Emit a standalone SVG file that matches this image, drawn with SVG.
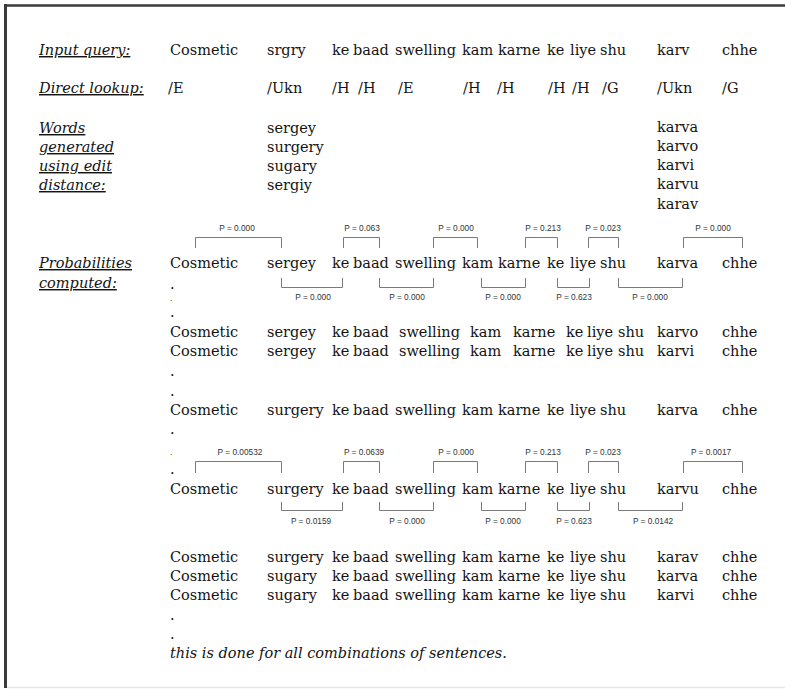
<svg xmlns="http://www.w3.org/2000/svg" width="785" height="689" viewBox="0 0 785 689">
<style>
.w{font-family:"DejaVu Serif","Liberation Serif",serif;font-size:14.5px;fill:#141414}
.h{font-family:"DejaVu Serif","Liberation Serif",serif;font-size:14.5px;font-style:italic;fill:#141414;text-decoration:underline}
.it{font-family:"DejaVu Serif","Liberation Serif",serif;font-size:14.5px;font-style:italic;fill:#141414}
.p{font-family:"Liberation Sans",Arial,sans-serif;font-size:8.3px;fill:#333;text-anchor:middle}
.sd{font-family:"Liberation Sans",Arial,sans-serif;font-size:8.3px;fill:#333}
.br{fill:none;stroke:#7a7a7a;stroke-width:1}
</style>
<rect x="0" y="0" width="785" height="689" fill="#fff"/>
<g id="frame">
<line x1="4" y1="5.5" x2="785" y2="5.5" stroke="#3a3a3a" stroke-width="2.5"/>
<line x1="5.5" y1="4" x2="5.5" y2="688" stroke="#3a3a3a" stroke-width="3"/>
<line x1="7" y1="687.5" x2="785" y2="687.5" stroke="#e6e6e6" stroke-width="1.5"/>
</g>
<g id="headers">
<text class="h" x="39" y="55">Input query:</text>
<text class="h" x="39" y="93">Direct lookup:</text>
<text class="h" x="39" y="133">Words</text>
<text class="h" x="39" y="152">generated</text>
<text class="h" x="39" y="171">using edit</text>
<text class="h" x="39" y="190">distance:</text>
<text class="h" x="39" y="268">Probabilities</text>
<text class="h" x="39" y="288">computed:</text>
</g>
<g id="input-query">
<text class="w" y="55"><tspan x="170">Cosmetic</tspan><tspan x="267">srgry</tspan><tspan x="332">ke</tspan><tspan x="353">baad</tspan><tspan x="395">swelling</tspan><tspan x="462">kam</tspan><tspan x="498">karne</tspan><tspan x="547">ke</tspan><tspan x="570">liye</tspan><tspan x="600">shu</tspan><tspan x="657">karv</tspan><tspan x="722">chhe</tspan></text>
</g>
<g id="direct-lookup">
<text class="w" y="93"><tspan x="168">/E</tspan><tspan x="267">/Ukn</tspan><tspan x="332">/H</tspan><tspan x="358">/H</tspan><tspan x="398">/E</tspan><tspan x="463">/H</tspan><tspan x="497">/H</tspan><tspan x="548">/H</tspan><tspan x="572">/H</tspan><tspan x="602">/G</tspan><tspan x="657">/Ukn</tspan><tspan x="722">/G</tspan></text>
</g>
<g id="edit-distance-words">
<text class="w" x="267" y="133">sergey</text>
<text class="w" x="267" y="152">surgery</text>
<text class="w" x="267" y="171">sugary</text>
<text class="w" x="267" y="190">sergiy</text>
<text class="w" x="657" y="132">karva</text>
<text class="w" x="657" y="151">karvo</text>
<text class="w" x="657" y="170">karvi</text>
<text class="w" x="657" y="189">karvu</text>
<text class="w" x="657" y="209">karav</text>
</g>
<g id="sentences">
<text class="w" y="268"><tspan x="170">Cosmetic</tspan><tspan x="267">sergey</tspan><tspan x="332">ke</tspan><tspan x="353">baad</tspan><tspan x="395">swelling</tspan><tspan x="462">kam</tspan><tspan x="498">karne</tspan><tspan x="547">ke</tspan><tspan x="570">liye</tspan><tspan x="600">shu</tspan><tspan x="657">karva</tspan><tspan x="722">chhe</tspan></text>
<text class="w" x="170" y="289">.</text>
<text class="sd" x="170" y="301">.</text>
<text class="w" x="170" y="317">.</text>
<text class="w" y="337"><tspan x="170">Cosmetic</tspan><tspan x="267">sergey</tspan><tspan x="332">ke</tspan><tspan x="353">baad</tspan><tspan x="399">swelling</tspan><tspan x="470">kam</tspan><tspan x="513">karne</tspan><tspan x="566">ke</tspan><tspan x="587">liye</tspan><tspan x="618">shu</tspan><tspan x="657">karvo</tspan><tspan x="722">chhe</tspan></text>
<text class="w" y="356"><tspan x="170">Cosmetic</tspan><tspan x="267">sergey</tspan><tspan x="332">ke</tspan><tspan x="353">baad</tspan><tspan x="399">swelling</tspan><tspan x="470">kam</tspan><tspan x="513">karne</tspan><tspan x="566">ke</tspan><tspan x="587">liye</tspan><tspan x="618">shu</tspan><tspan x="657">karvi</tspan><tspan x="722">chhe</tspan></text>
<text class="w" x="170" y="376">.</text>
<text class="w" x="170" y="396">.</text>
<text class="w" y="415"><tspan x="170">Cosmetic</tspan><tspan x="267">surgery</tspan><tspan x="332">ke</tspan><tspan x="353">baad</tspan><tspan x="395">swelling</tspan><tspan x="462">kam</tspan><tspan x="498">karne</tspan><tspan x="547">ke</tspan><tspan x="570">liye</tspan><tspan x="600">shu</tspan><tspan x="657">karva</tspan><tspan x="722">chhe</tspan></text>
<text class="w" x="170" y="434">.</text>
<text class="sd" x="170" y="455">.</text>
<text class="w" x="170" y="474">.</text>
<text class="w" y="494"><tspan x="170">Cosmetic</tspan><tspan x="267">surgery</tspan><tspan x="332">ke</tspan><tspan x="353">baad</tspan><tspan x="395">swelling</tspan><tspan x="462">kam</tspan><tspan x="498">karne</tspan><tspan x="547">ke</tspan><tspan x="570">liye</tspan><tspan x="600">shu</tspan><tspan x="657">karvu</tspan><tspan x="722">chhe</tspan></text>
<text class="w" y="562"><tspan x="170">Cosmetic</tspan><tspan x="267">surgery</tspan><tspan x="332">ke</tspan><tspan x="353">baad</tspan><tspan x="395">swelling</tspan><tspan x="462">kam</tspan><tspan x="498">karne</tspan><tspan x="547">ke</tspan><tspan x="570">liye</tspan><tspan x="600">shu</tspan><tspan x="657">karav</tspan><tspan x="722">chhe</tspan></text>
<text class="w" y="581"><tspan x="170">Cosmetic</tspan><tspan x="267">sugary</tspan><tspan x="332">ke</tspan><tspan x="353">baad</tspan><tspan x="395">swelling</tspan><tspan x="462">kam</tspan><tspan x="498">karne</tspan><tspan x="547">ke</tspan><tspan x="570">liye</tspan><tspan x="600">shu</tspan><tspan x="657">karva</tspan><tspan x="722">chhe</tspan></text>
<text class="w" y="600"><tspan x="170">Cosmetic</tspan><tspan x="267">sugary</tspan><tspan x="332">ke</tspan><tspan x="353">baad</tspan><tspan x="395">swelling</tspan><tspan x="462">kam</tspan><tspan x="498">karne</tspan><tspan x="547">ke</tspan><tspan x="570">liye</tspan><tspan x="600">shu</tspan><tspan x="657">karvi</tspan><tspan x="722">chhe</tspan></text>
<text class="w" x="170" y="620">.</text>
<text class="w" x="170" y="639">.</text>
<text class="it" x="170" y="658">this is done for all combinations of sentences.</text>
</g>
<g id="connectors">
<path class="br" d="M195.5 248V237.5H281.5V248M343.5 248V237.5H379.5V248M433.5 248V237.5H477.5V248M525.5 248V237.5H557.5V248M588.5 248V237.5H618.5V248M683.5 248V237.5H742.5V248"/>
<path class="br" d="M281.5 278V287.5H342.5V278M379.5 278V287.5H433.5V278M481.5 278V287.5H525.5V278M557.5 278V287.5H589.5V278M618.5 278V287.5H682.5V278"/>
<path class="br" d="M195.5 473V461.5H281.5V473M343.5 473V461.5H379.5V473M433.5 473V461.5H477.5V473M525.5 473V461.5H557.5V473M588.5 473V461.5H618.5V473M683.5 473V461.5H742.5V473"/>
<path class="br" d="M281.5 502V510.5H342.5V502M379.5 502V510.5H433.5V502M481.5 502V510.5H525.5V502M557.5 502V510.5H589.5V502M618.5 502V510.5H682.5V502"/>
</g>
<g id="probability-labels">
<text class="p" x="237" y="231">P = 0.000</text>
<text class="p" x="362" y="231">P = 0.063</text>
<text class="p" x="456" y="231">P = 0.000</text>
<text class="p" x="543" y="231">P = 0.213</text>
<text class="p" x="603" y="231">P = 0.023</text>
<text class="p" x="713" y="231">P = 0.000</text>
<text class="p" x="313" y="300">P = 0.000</text>
<text class="p" x="407" y="300">P = 0.000</text>
<text class="p" x="503" y="300">P = 0.000</text>
<text class="p" x="574" y="300">P = 0.623</text>
<text class="p" x="650" y="300">P = 0.000</text>
<text class="p" x="240" y="455">P = 0.00532</text>
<text class="p" x="364" y="455">P = 0.0639</text>
<text class="p" x="456" y="455">P = 0.000</text>
<text class="p" x="543" y="455">P = 0.213</text>
<text class="p" x="603" y="455">P = 0.023</text>
<text class="p" x="711" y="455">P = 0.0017</text>
<text class="p" x="311" y="524">P = 0.0159</text>
<text class="p" x="407" y="524">P = 0.000</text>
<text class="p" x="503" y="524">P = 0.000</text>
<text class="p" x="574" y="524">P = 0.623</text>
<text class="p" x="653" y="524">P = 0.0142</text>
</g>
</svg>
